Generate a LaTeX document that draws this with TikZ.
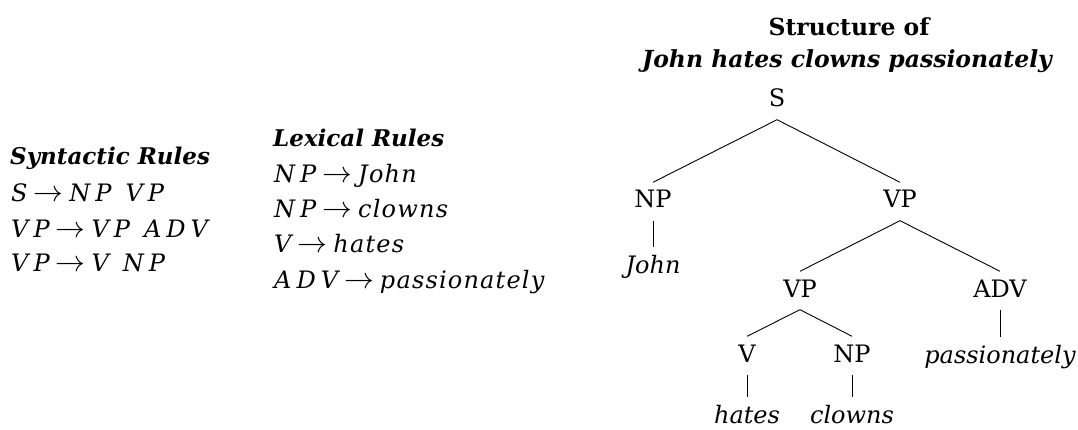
\documentclass[tikz,border=0pt]{standalone}
\usepackage{graphicx}
\usepackage{fontspec}
\setmainfont{DejaVu Serif}
\newfontfamily\rulefont[LetterSpace=5]{DejaVu Serif}
% italic rule symbols; \kk spreads the capitals of a category name
\newcommand\rl[1]{{\rulefont\itshape #1}}
\newcommand\kk{\kern5pt}
\newcommand\wsp{\hspace{14pt}}
\newcommand\rarr{\hspace{6pt}\scalebox{1.2}{$\rightarrow$}\hspace{6pt}}
\begin{document}
\begin{tikzpicture}[x=1pt,y=-1pt,
  every node/.style={font=\fontsize{24}{29}\selectfont, inner sep=0pt},
  ruleline/.style={anchor=base west, font=\fontsize{24}{28}\selectfont},
  heading/.style={anchor=base west, font=\fontsize{23}{27}\selectfont\bfseries\itshape},
  title/.style={anchor=base, font=\fontsize{23.5}{27}\selectfont\bfseries},
  cat/.style={anchor=base, text height=18pt, text depth=5pt, inner ysep=7.5pt, inner xsep=0pt},
  word/.style={cat, font=\fontsize{24}{29}\selectfont\itshape},
  branch/.style={line width=0.9pt}]
\useasboundingbox (0,0) rectangle (1078,430);

% syntactic rules
\node[heading]  (synhead) at (10,165) {Syntactic Rules};
\node[ruleline] (syn1) at (11,202) {\rl{S}\rarr\rl{N\kk P\wsp V\kk P}};
\node[ruleline] (syn2) at (11,237) {\rl{V\kk P}\rarr\rl{V\kk P\wsp A\kk D\kk V}};
\node[ruleline] (syn3) at (11,272) {\rl{V\kk P}\rarr\rl{V\wsp N\kk P}};

% lexical rules
\node[heading]  (lexhead) at (273,147) {Lexical Rules};
\node[ruleline] (lex1) at (274,183) {\rl{N\kk P}\rarr\rl{John}};
\node[ruleline] (lex2) at (274,218) {\rl{N\kk P}\rarr\rl{clowns}};
\node[ruleline] (lex3) at (274,253) {\rl{V}\rarr\rl{hates}};
\node[ruleline] (lex4) at (274,288) {\rl{A\kk D\kk V}\rarr\rl{passionately}};

% title of the tree
\node[title] (t1) at (849,36) {Structure of};
\node[title, font=\fontsize{23.5}{27}\selectfont\bfseries\itshape] (t2) at (847,68) {John hates clowns passionately};

% phrase structure tree
\node[cat]  (s)     at (777,107) {S};
\node[cat]  (np1)   at (653,208) {NP};
\node[cat]  (vp1)   at (900,208) {VP};
\node[word] (john)  at (653,273) {John};
\node[cat]  (vp2)   at (800,297) {VP};
\node[cat]  (adv)   at (1000,297) {ADV};
\node[cat]  (v)     at (747,362) {V};
\node[cat]  (np2)   at (852,362) {NP};
\node[word] (pass)  at (1000,363) {passionately};
\node[word] (hates) at (747,423) {hates};
\node[word] (clowns) at (852,423) {clowns};

\draw[branch] (s.south) -- (np1.north);
\draw[branch] (s.south) -- (vp1.north);
\draw[branch] (np1.south) -- (john.north);
\draw[branch] (vp1.south) -- (vp2.north);
\draw[branch] (vp1.south) -- (adv.north);
\draw[branch] (vp2.south) -- (v.north);
\draw[branch] (vp2.south) -- (np2.north);
\draw[branch] (adv.south) -- (pass.north);
\draw[branch] (v.south) -- (hates.north);
\draw[branch] (np2.south) -- (clowns.north);
\end{tikzpicture}
\end{document}
